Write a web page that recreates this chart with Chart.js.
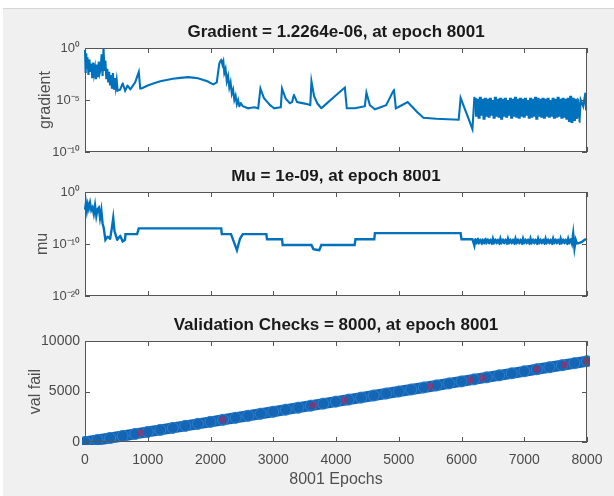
<!DOCTYPE html>
<html>
<head>
<meta charset="utf-8">
<script src="https://cdn.jsdelivr.net/npm/chart.js@4.4.1/dist/chart.umd.min.js"></script>
<style>
html, body { margin: 0; padding: 0; width: 614px; height: 496px; overflow: hidden; background: #fff; }
#fig { position: absolute; left: 3px; top: 8px; right: 0; bottom: 0; background: #f0f0f0; border-top: 1px solid #d6d6d6; }
canvas { position: absolute; left: 0; }
</style>
</head>
<body>
<div id="fig"></div>
<canvas id="gradChart" width="614" height="170" style="top:0px"></canvas>
<canvas id="muChart" width="614" height="140" style="top:170px"></canvas>
<canvas id="valChart" width="614" height="186" style="top:310px"></canvas>
<script>
// [epoch, log10(value)]
const gradHead = [
    [0,-0.2],[10,-2.4],[20,-0.5],[30,-2.0],[40,-0.9],[55,-2.6],[70,-1.1],[85,-2.3],[100,-1.5],[115,-2.9],
    [130,-1.4],[145,-2.5],[160,-1.9],[175,-3.0],[190,-1.6],[205,-2.8],[220,-1.3],[235,-2.4],[250,-2.0],[265,-0.6],
    [280,-2.7],[295,0.0],[310,-2.2],[325,-1.2],[340,-3.0],[355,-2.0],[370,-3.3],[385,-2.3],[400,-3.6],[415,-2.6],
    [430,-3.9],[445,-2.4],[460,-4.0],[475,-2.9],[490,-3.8],[505,-3.1],[520,-4.1],[560,-4.0],[600,-3.4],[640,-4.1],
    [680,-3.6],[720,-4.0],[800,-3.3],[857,-2.3],[880,-3.9],[900,-3.9],[1000,-3.6],[1200,-3.2],[1400,-2.95],[1640,-2.8],
    [1800,-2.9],[1950,-3.2],[2045,-3.5],[2100,-3.3],[2140,-1.5],[2170,-1.1],[2190,-1.6],[2205,-1.3],[2220,-2.4],[2240,-2.0],
    [2260,-3.2],[2280,-2.7],[2300,-3.8],[2320,-3.3],[2340,-4.4],[2360,-4.0],[2380,-5.0],[2400,-4.6],[2420,-5.4],[2440,-5.0],
    [2460,-5.6],[2480,-5.3],[2515,-5.6],[2600,-5.8],[2700,-5.7],[2760,-5.8],[2796,-3.9],[2850,-4.8],[2950,-5.5],[3015,-5.8],
    [3120,-5.7],[3140,-3.9],[3200,-4.9],[3265,-5.3],[3300,-5.2],[3328,-4.5],[3380,-5.2],[3550,-5.4],[3590,-5.5],[3609,-3.2],
    [3650,-4.6],[3700,-5.3],[3766,-5.8],[3950,-4.8],[4141,-3.8],[4172,-5.8],[4300,-5.8],[4460,-5.6],[4485,-4.3],[4540,-5.5],
    [4620,-5.9],[4800,-5.5],[4923,-4.0],[4954,-5.8],[5142,-5.2],[5300,-6.2],[5392,-6.7],[5600,-6.8],[5955,-6.9],[5986,-4.8],
    [6100,-6.6],[6174,-7.8],[6205,-4.8]
];
const gradTail = [[7860,-5.0],[7880,-7.1],[7900,-5.0],[7940,-5.6],[7975,-4.3],[7985,-5.9],[8000,-5.91]];

const muHead = [
    [0,-3.4],[15,-2.2],[30,-3.6],[45,-2.4],[60,-3.2],[80,-2.1],[100,-3.5],[120,-3.0],[140,-4.2],[160,-2.6],
    [180,-4.6],[200,-3.3],[220,-3.0],[240,-5.0],[260,-3.5],[280,-6.0],[300,-7.0],[325,-9.2],[360,-8.6],[400,-9.0],
    [430,-6.8],[450,-5.0],[470,-7.5],[513,-9.2],[560,-8.4],[600,-9.5],[638,-9.2],[645,-8.1],[830,-8.1],[857,-7.0],
    [2171,-7.0],[2180,-8.1],[2327,-8.1],[2400,-10.5],[2421,-11.2],[2470,-9.0],[2515,-8.1],[2890,-8.1],[2900,-9.1],[3140,-9.1],
    [3150,-10.2],[3609,-10.2],[3640,-11.0],[3734,-11.2],[3766,-10.2],[4297,-10.2],[4310,-9.1],[4610,-9.1],[4620,-7.9],[5986,-7.9],
    [6000,-9.1],[6174,-9.1],[6185,-9.5],[6205,-10.3]
];
const muTail = [[7880,-9.8],[7920,-9.6],[7960,-9.2],[8000,-9.0]];

// the dense oscillating part at the end of training
const bandEpochs = [
    6220,6240,6260,6280,6300,6320,6340,6360,6380,6400,
    6420,6440,6460,6480,6500,6520,6540,6560,6580,6600,
    6620,6640,6660,6680,6700,6720,6740,6760,6780,6800,
    6820,6840,6860,6880,6900,6920,6940,6960,6980,7000,
    7020,7040,7060,7080,7100,7120,7140,7160,7180,7200,
    7220,7240,7260,7280,7300,7320,7340,7360,7380,7400,
    7420,7440,7460,7480,7500,7520,7540,7560,7580,7600,
    7620,7640,7660,7680,7700,7720,7740,7760,7780,7800,
    7820,7840
];
const gradBand = [
    -4.8,-6.6,-4.9,-6.8,-4.7,-6.5,-4.9,-6.9,-4.8,-6.6,
    -4.9,-6.7,-4.8,-6.5,-5.0,-6.8,-4.7,-6.6,-4.9,-6.7,
    -4.8,-6.9,-4.9,-6.6,-4.8,-6.7,-5.0,-6.5,-4.8,-6.8,
    -4.9,-6.6,-4.7,-6.7,-4.9,-6.8,-4.8,-6.6,-4.9,-6.7,
    -4.8,-6.5,-5.0,-6.8,-4.8,-6.7,-4.9,-6.6,-4.7,-6.9,
    -4.8,-6.6,-4.9,-6.7,-4.8,-6.8,-4.9,-6.6,-4.8,-6.7,
    -5.0,-6.6,-4.8,-6.8,-4.9,-6.7,-4.7,-6.6,-4.9,-6.8,
    -4.8,-6.7,-4.9,-6.9,-4.8,-7.1,-4.6,-7.2,-4.8,-7.0,
    -4.9,-6.8
];
const muBand = [
    -9.1,-9.9,-9.0,-9.9,-9.1,-10.0,-9.1,-9.9,-9.0,-9.9,
    -9.1,-9.9,-9.1,-10.0,-9.0,-9.9,-9.1,-9.9,-9.1,-10.0,
    -9.0,-9.9,-9.1,-9.9,-9.1,-10.0,-9.0,-9.9,-9.1,-9.9,
    -9.1,-10.0,-9.0,-9.9,-9.1,-9.9,-9.1,-10.0,-9.0,-9.9,
    -9.1,-9.9,-9.1,-10.0,-9.0,-9.9,-9.1,-9.9,-9.1,-10.0,
    -9.0,-9.9,-9.1,-9.9,-9.1,-10.0,-9.0,-9.9,-9.1,-9.9,
    -9.1,-10.0,-9.0,-9.9,-9.1,-9.9,-9.1,-10.0,-9.0,-9.9,
    -9.1,-9.9,-9.1,-10.0,-9.0,-9.9,-9.1,-9.9,-8.0,-10.8,
    -9.2,-9.9
];

const valEpochs = [
    0,200,400,600,800,1000,1200,1400,1600,1800,2000,2200,2400,2600,2800,3000,3200,3400,3600,3800,
    4000,4200,4400,4600,4800,5000,5200,5400,5600,5800,6000,6200,6400,6600,6800,7000,7200,7400,7600,7800,8000
];
const valFail = [
    0,199,399,599,799,999,1199,1399,1599,1799,1999,2199,2399,2599,2799,2999,3199,3399,3599,3799,
    3999,4199,4399,4599,4799,4999,5199,5399,5599,5799,5999,6199,6399,6599,6799,6999,7199,7399,7599,7799,8000
];
const valRedEpochs = [890, 2200, 3640, 4130, 5500, 6140, 6330, 7200, 7640, 7990];
const valRedFail = [889, 2199, 3639, 4129, 5499, 6139, 6329, 7199, 7639, 7989];

const epochTicks = [0, 1000, 2000, 3000, 4000, 5000, 6000, 7000, 8000];
const gradTicks = [1e-10, 1e-5, 1];
const gradTickLabels = ['10\u207B\u00B9\u2070', '10\u207B\u2075', '10\u2070'];
const muTicks = [1e-20, 1e-10, 1];
const muTickLabels = ['10\u207B\u00B2\u2070', '10\u207B\u00B9\u2070', '10\u2070'];
const valTicks = [0, 5000, 10000];

const BLUE = '#0072BD';
const FONT = '"Liberation Sans", Arial, sans-serif';
const TICK_COLOR = '#4a4a4a';
const LABEL_COLOR = '#505050';
const BOX_COLOR = '#555555';

function logPoints(pairs) {
    return pairs.map(p => ({x: p[0], y: Math.pow(10, p[1])}));
}

function bandPoints(values) {
    return bandEpochs.map((e, i) => ({x: e, y: Math.pow(10, values[i])}));
}

// thicker stroke inside the oscillating band so it reads as one solid block
function inBand(ctx) {
    return ctx.p0.parsed.x >= bandEpochs[0] && ctx.p1.parsed.x <= bandEpochs[bandEpochs.length - 1];
}

// white axes, box with inward ticks and a bold title, like the MATLAB figure
const matlabAxes = {
    id: 'matlabAxes',
    beforeDraw(chart) {
        const a = chart.chartArea;
        const ctx = chart.ctx;
        ctx.save();
        ctx.fillStyle = '#ffffff';
        ctx.fillRect(a.left, a.top, a.right - a.left, a.bottom - a.top);
        ctx.restore();
    },
    afterDraw(chart, args, opts) {
        const a = chart.chartArea;
        const ctx = chart.ctx;
        const xs = chart.scales.x;
        const ys = chart.scales.y;
        ctx.save();
        ctx.strokeStyle = BOX_COLOR;
        ctx.lineWidth = 1;
        ctx.strokeRect(a.left + 0.5, a.top + 0.5, a.right - a.left - 1, a.bottom - a.top - 1);
        ctx.beginPath();
        xs.ticks.forEach(t => {
            const px = Math.round(xs.getPixelForValue(t.value)) + 0.5;
            ctx.moveTo(px, a.bottom);
            ctx.lineTo(px, a.bottom - 5);
            ctx.moveTo(px, a.top);
            ctx.lineTo(px, a.top + 5);
        });
        ys.ticks.forEach(t => {
            const py = Math.round(ys.getPixelForValue(t.value)) + 0.5;
            ctx.moveTo(a.left, py);
            ctx.lineTo(a.left + 5, py);
            ctx.moveTo(a.right, py);
            ctx.lineTo(a.right - 5, py);
        });
        ctx.stroke();
        ctx.fillStyle = '#1a1a1a';
        ctx.font = 'bold 17px ' + FONT;
        ctx.textAlign = 'center';
        ctx.textBaseline = 'middle';
        ctx.fillText(opts.text, (a.left + a.right) / 2, a.top - 16);
        ctx.restore();
    }
};

function xAxis(height, showLabels) {
    return {
        type: 'linear',
        min: 0,
        max: 8000,
        grid: {display: false, drawTicks: false},
        border: {display: false},
        afterBuildTicks: s => { s.ticks = epochTicks.map(v => ({value: v})); },
        afterFit: s => { s.height = height; },
        ticks: {
            display: showLabels,
            padding: 10,
            maxRotation: 0,
            autoSkip: false,
            color: TICK_COLOR,
            font: {family: FONT, size: 14},
            callback: v => String(v)
        },
        title: {
            display: showLabels,
            text: '8001 Epochs',
            color: LABEL_COLOR,
            font: {family: FONT, size: 16},
            padding: {top: 0, bottom: 7}
        }
    };
}

function yAxis(type, min, max, tickValues, tickLabels, label, labelPad, tickSize) {
    return {
        type: type,
        min: min,
        max: max,
        grid: {display: false, drawTicks: false},
        border: {display: false},
        afterBuildTicks: s => { s.ticks = tickValues.map(v => ({value: v})); },
        afterFit: s => { s.width = 85; },
        ticks: {
            padding: 5,
            autoSkip: false,
            color: TICK_COLOR,
            font: {family: FONT, size: tickSize},
            callback: (v, i) => tickLabels[i]
        },
        title: {
            display: true,
            text: label,
            color: LABEL_COLOR,
            font: {family: FONT, size: 16},
            padding: {top: labelPad, bottom: 0}
        }
    };
}

function makeChart(id, datasets, title, top, x, y) {
    return new Chart(document.getElementById(id).getContext('2d'), {
        type: 'line',
        data: {datasets: datasets},
        options: {
            responsive: false,
            animation: false,
            devicePixelRatio: 1,
            layout: {padding: {top: top, right: 27, left: 0, bottom: 0}},
            scales: {x: x, y: y},
            plugins: {
                legend: {display: false},
                tooltip: {enabled: false},
                matlabAxes: {text: title}
            }
        },
        plugins: [matlabAxes]
    });
}

// a tiny tension keeps Chart.js off its fast path, so the dense zigzag draws as a solid band
makeChart('gradChart', [{
    data: logPoints(gradHead).concat(bandPoints(gradBand), logPoints(gradTail)),
    borderColor: BLUE,
    borderWidth: 2.1,
    pointRadius: 0,
    tension: 0.001,
    clip: 1,
    segment: {borderWidth: ctx => inBand(ctx) ? 3 : undefined}
}], 'Gradient = 1.2264e-06, at epoch 8001', 48,
    xAxis(18, false),
    yAxis('logarithmic', 1e-10, 1, gradTicks, gradTickLabels, 'gradient', 36, 13));

makeChart('muChart', [{
    data: logPoints(muHead).concat(bandPoints(muBand), logPoints(muTail)),
    borderColor: BLUE,
    borderWidth: 2.4,
    pointRadius: 0,
    tension: 0.001,
    clip: 1
}], 'Mu = 1e-09, at epoch 8001', 22,
    xAxis(14, false),
    yAxis('logarithmic', 1e-20, 1, muTicks, muTickLabels, 'mu', 33, 13));

makeChart('valChart', [{
    data: valRedEpochs.map((e, i) => ({x: e, y: valRedFail[i]})),
    showLine: false,
    pointRadius: 3,
    pointBorderWidth: 1,
    pointBackgroundColor: 'rgba(170,40,100,0.55)',
    pointBorderColor: 'rgba(200,30,70,0.6)',
    clip: 3
}, {
    data: valEpochs.map((e, i) => ({x: e, y: valFail[i]})),
    borderColor: '#1565b5',
    borderWidth: 11,
    pointRadius: 5.5,
    pointBorderWidth: 1,
    pointBackgroundColor: '#1565b5',
    pointBorderColor: '#2a82d0',
    tension: 0,
    clip: 3
}], 'Validation Checks = 8000, at epoch 8001', 31,
    xAxis(54, true),
    yAxis('linear', 0, 10000, valTicks, ['0', '5000', '10000'], 'val fail', 26, 14));
</script>
</body>
</html>
